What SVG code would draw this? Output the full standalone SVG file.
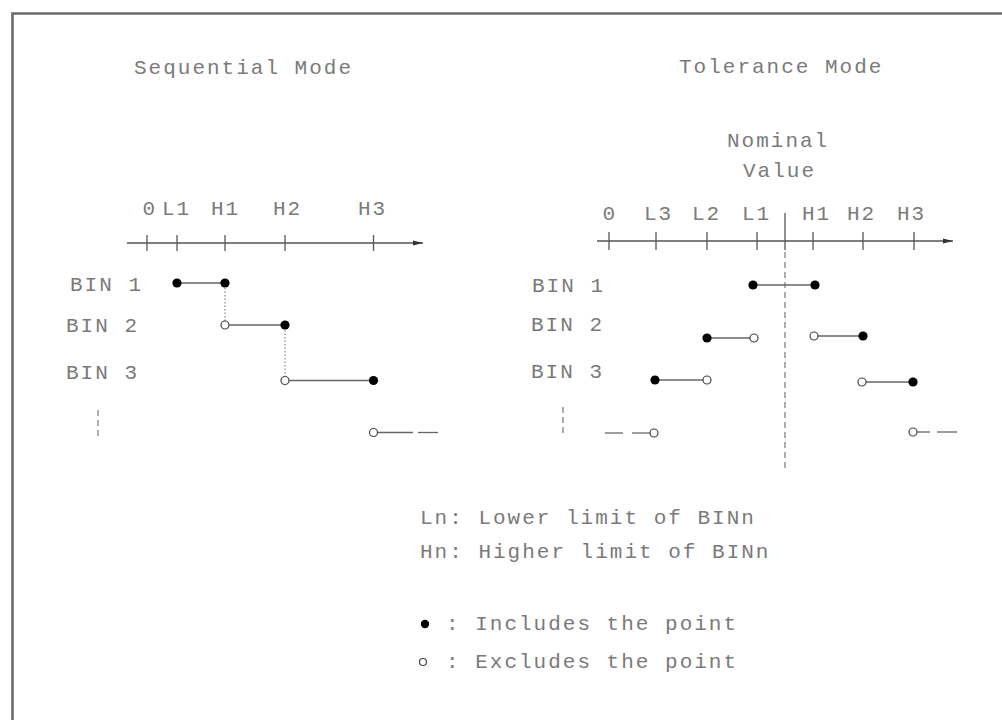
<svg xmlns="http://www.w3.org/2000/svg" width="1002" height="720" viewBox="0 0 1002 720">
<style>
  .t { font-family: "Liberation Mono", "DejaVu Sans Mono", monospace; font-size: 21px; letter-spacing: 2px; fill: #7a7a7a; }
  .ax { stroke: #555; stroke-width: 1.3; fill: none; }
  .tk { stroke: #555; stroke-width: 1.3; }
  .seg { stroke: #666; stroke-width: 1.3; fill: none; }
  .dot { stroke: #888; stroke-width: 1.2; stroke-dasharray: 1.5 2; fill: none; }
  .dash { stroke: #777; stroke-width: 1.2; stroke-dasharray: 6 4; fill: none; }
  .inc { fill: #000; }
  .exc { fill: #fff; stroke: #444; stroke-width: 1.2; }
</style>
<defs>
  <marker id="arr" viewBox="0 0 10 6" refX="10" refY="3" markerWidth="10" markerHeight="6" markerUnits="userSpaceOnUse" orient="auto">
    <path d="M0,0.5 L10,3 L0,5.5 Z" fill="#333"/>
  </marker>
</defs>
<rect width="1002" height="720" fill="#fff"/>
<path id="frame" d="M12.5,720 V13.5 H1002" stroke="#6a6a6a" stroke-width="2.6" fill="none"/>

<g id="sequential">
  <text class="t" x="134" y="74">Sequential Mode</text>
  <g id="seq-axis">
    <line class="ax" x1="127" y1="243" x2="423" y2="243" marker-end="url(#arr)"/>
    <line class="tk" x1="147" y1="235" x2="147" y2="251"/>
    <line class="tk" x1="177" y1="235" x2="177" y2="251"/>
    <line class="tk" x1="225" y1="235" x2="225" y2="251"/>
    <line class="tk" x1="285" y1="235" x2="285" y2="251"/>
    <line class="tk" x1="373.5" y1="235" x2="373.5" y2="251"/>
    <text class="t" x="142.5" y="215">0</text>
    <text class="t" x="162" y="215">L1</text>
    <text class="t" x="211" y="215">H1</text>
    <text class="t" x="273" y="215">H2</text>
    <text class="t" x="358" y="215">H3</text>
  </g>
  <g id="seq-labels">
    <text class="t" x="70" y="291">BIN 1</text>
    <text class="t" x="66" y="332">BIN 2</text>
    <text class="t" x="66" y="379">BIN 3</text>
  </g>
  <g id="seq-connectors">
    <line class="seg" x1="177" y1="283" x2="225" y2="283"/>
    <line class="dot" x1="225" y1="288" x2="225" y2="321"/>
    <line class="seg" x1="229" y1="325" x2="285" y2="325"/>
    <line class="dot" x1="285" y1="330" x2="285" y2="376"/>
    <line class="seg" x1="289" y1="380.5" x2="373.5" y2="380.5"/>
    <line class="seg" x1="377.5" y1="432.5" x2="413" y2="432.5"/>
    <line class="seg" x1="418" y1="432.5" x2="438" y2="432.5"/>
    <line class="dash" x1="98" y1="410" x2="98" y2="440"/>
  </g>
  <g id="seq-points">
    <circle class="inc" cx="177" cy="283" r="4.6"/>
    <circle class="inc" cx="225" cy="283" r="4.6"/>
    <circle class="exc" cx="225" cy="325" r="4"/>
    <circle class="inc" cx="285" cy="325" r="4.6"/>
    <circle class="exc" cx="285" cy="380.5" r="4"/>
    <circle class="inc" cx="373.5" cy="380.5" r="4.6"/>
    <circle class="exc" cx="373.5" cy="432.5" r="4"/>
  </g>
</g>

<g id="tolerance">
  <text class="t" x="679" y="73">Tolerance Mode</text>
  <text class="t" x="727" y="147">Nominal</text>
  <text class="t" x="743" y="177">Value</text>
  <g id="tol-axis">
    <line class="ax" x1="597" y1="241" x2="953" y2="241" marker-end="url(#arr)"/>
    <line class="tk" x1="609" y1="232" x2="609" y2="250"/>
    <line class="tk" x1="656" y1="232" x2="656" y2="250"/>
    <line class="tk" x1="707" y1="232" x2="707" y2="250"/>
    <line class="tk" x1="757" y1="232" x2="757" y2="250"/>
    <line class="tk" x1="813" y1="232" x2="813" y2="250"/>
    <line class="tk" x1="863" y1="232" x2="863" y2="250"/>
    <line class="tk" x1="914" y1="232" x2="914" y2="250"/>
    <line class="tk" x1="785" y1="213" x2="785" y2="250"/>
    <line class="dash" x1="785" y1="252" x2="785" y2="470" stroke-dasharray="5 4"/>
    <text class="t" x="602.5" y="220">0</text>
    <text class="t" x="644" y="220">L3</text>
    <text class="t" x="692" y="220">L2</text>
    <text class="t" x="742" y="220">L1</text>
    <text class="t" x="802" y="220">H1</text>
    <text class="t" x="847" y="220">H2</text>
    <text class="t" x="897" y="220">H3</text>
  </g>
  <g id="tol-labels">
    <text class="t" x="532" y="292">BIN 1</text>
    <text class="t" x="531" y="331">BIN 2</text>
    <text class="t" x="531" y="378">BIN 3</text>
  </g>
  <g id="tol-connectors">
    <line class="seg" x1="753" y1="285" x2="815" y2="285"/>
    <line class="seg" x1="707" y1="338" x2="750" y2="338"/>
    <line class="seg" x1="818" y1="336" x2="863" y2="336"/>
    <line class="seg" x1="655" y1="380" x2="703" y2="380"/>
    <line class="seg" x1="866" y1="382" x2="913" y2="382"/>
    <line class="seg" x1="605" y1="433" x2="623" y2="433"/>
    <line class="seg" x1="632" y1="433" x2="650" y2="433"/>
    <line class="seg" x1="917" y1="432" x2="930" y2="432"/>
    <line class="seg" x1="937" y1="432" x2="957" y2="432"/>
    <line class="dash" x1="563" y1="407" x2="563" y2="437"/>
  </g>
  <g id="tol-points">
    <circle class="inc" cx="753" cy="285" r="4.6"/>
    <circle class="inc" cx="815" cy="285" r="4.6"/>
    <circle class="inc" cx="707" cy="338" r="4.6"/>
    <circle class="exc" cx="754" cy="338" r="4"/>
    <circle class="exc" cx="814" cy="336" r="4"/>
    <circle class="inc" cx="863" cy="336" r="4.6"/>
    <circle class="inc" cx="655" cy="380" r="4.6"/>
    <circle class="exc" cx="707" cy="380" r="4"/>
    <circle class="exc" cx="862" cy="382" r="4"/>
    <circle class="inc" cx="913" cy="382" r="4.6"/>
    <circle class="exc" cx="654" cy="433" r="4"/>
    <circle class="exc" cx="913" cy="432" r="4"/>
  </g>
</g>

<g id="legend">
  <text class="t" x="420" y="524">Ln: Lower limit of BINn</text>
  <text class="t" x="420" y="558">Hn: Higher limit of BINn</text>
  <circle class="inc" cx="425" cy="624" r="4.2"/>
  <text class="t" x="446" y="630">: Includes the point</text>
  <circle class="exc" cx="423" cy="662" r="3.5"/>
  <text class="t" x="446" y="668">: Excludes the point</text>
</g>
</svg>
